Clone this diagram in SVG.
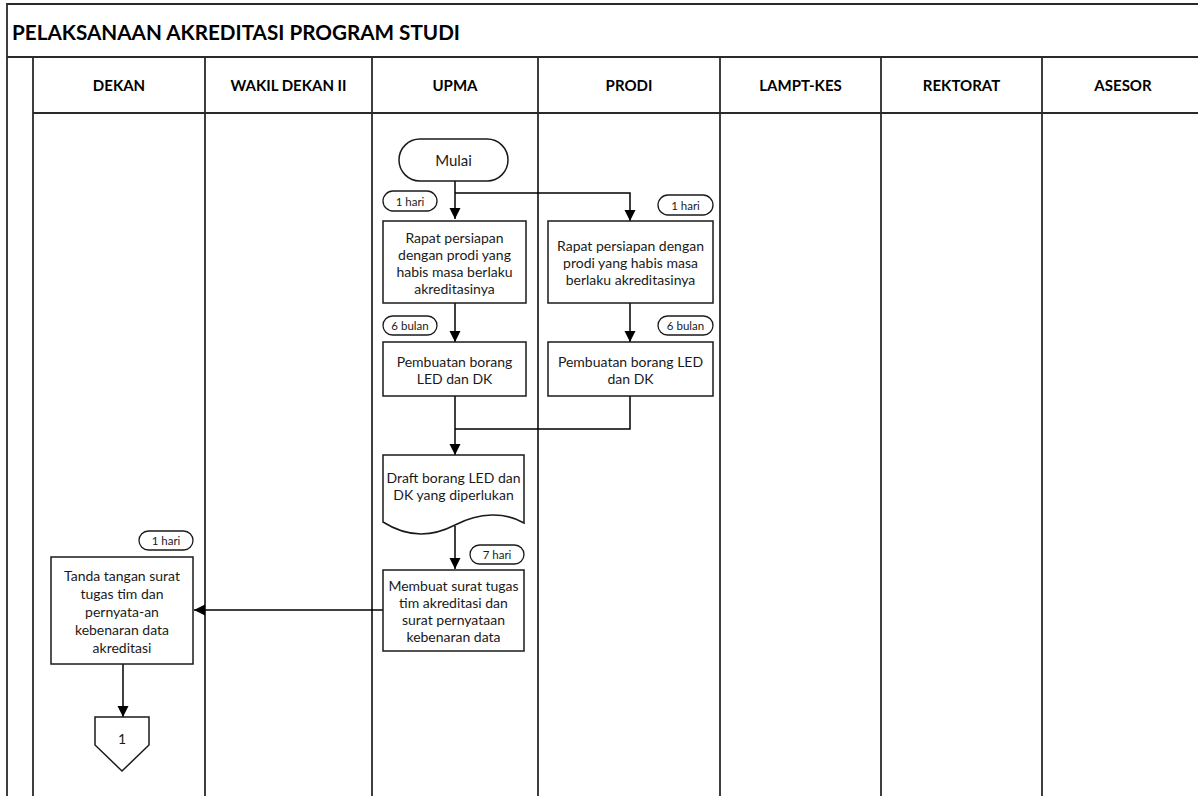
<svg xmlns="http://www.w3.org/2000/svg" width="1198" height="796" viewBox="0 0 1198 796">
<defs>
<marker id="arr" markerUnits="userSpaceOnUse" markerWidth="12" markerHeight="12" refX="11" refY="6" orient="auto">
<path d="M0,0.5 L11,6 L0,11.5 Z" fill="#000"/>
</marker>
<style>
.frame{stroke:#2a2a2a;stroke-width:1.8;fill:none}
.box{fill:#fff;stroke:#1a1a1a;stroke-width:1.5}
.pill{fill:#fff;stroke:#1a1a1a;stroke-width:1.3}
.conn{fill:none;stroke:#000;stroke-width:1.5}
.t{font-family:Lato,"Liberation Sans",sans-serif;font-size:14px;fill:#1a1a1a;text-anchor:middle;dominant-baseline:central}
.s{font-family:Lato,"Liberation Sans",sans-serif;font-size:11.5px;fill:#1a1a1a;text-anchor:middle;dominant-baseline:central}
.h{font-family:Lato,"Liberation Sans",sans-serif;font-size:15px;font-weight:bold;fill:#000;text-anchor:middle;dominant-baseline:central}
.title{font-family:Lato,"Liberation Sans",sans-serif;font-size:21px;font-weight:bold;fill:#000;dominant-baseline:central}
</style>
</defs>
<rect width="1198" height="796" fill="#fff"/>
<g id="frame">
<path class="frame" d="M7,796 V4 H1198 M7,57 H1198 M33,113 H1198"/>
<path class="frame" d="M33,57 V796 M205,57 V796 M372,57 V796 M538,57 V796 M720,57 V796 M881,57 V796 M1042,57 V796"/>
<text class="title" x="12" y="31" textLength="448" lengthAdjust="spacingAndGlyphs">PELAKSANAAN AKREDITASI PROGRAM STUDI</text>
<text class="h" x="119" y="85">DEKAN</text>
<text class="h" x="288.5" y="85">WAKIL DEKAN II</text>
<text class="h" x="455" y="85">UPMA</text>
<text class="h" x="629" y="85">PRODI</text>
<text class="h" x="800.5" y="85">LAMPT-KES</text>
<text class="h" x="961.5" y="85">REKTORAT</text>
<text class="h" x="1123" y="85">ASESOR</text>
</g>
<g id="connectors">
<path class="conn" d="M455,181 V219" marker-end="url(#arr)"/>
<path class="conn" d="M455,193 H630 V221" marker-end="url(#arr)"/>
<path class="conn" d="M455,303 V342" marker-end="url(#arr)"/>
<path class="conn" d="M630,303 V342" marker-end="url(#arr)"/>
<path class="conn" d="M455,396 V455" marker-end="url(#arr)"/>
<path class="conn" d="M630,396 V429 H455"/>
<path class="conn" d="M455,526 V569" marker-end="url(#arr)"/>
<path class="conn" d="M383,610 H194" marker-end="url(#arr)"/>
<path class="conn" d="M123,664 V717" marker-end="url(#arr)"/>
</g>
<g id="mulai">
<rect class="box" x="399" y="139" width="109" height="42" rx="21"/>
<text class="t" x="453.5" y="160" style="font-size:15px">Mulai</text>
</g>
<g id="d-upma-1">
<rect class="pill" x="383" y="191" width="54" height="20" rx="10"/>
<text class="s" x="410" y="201">1 hari</text>
</g>
<g id="rapat-upma">
<rect class="box" x="383" y="221" width="143" height="82"/>
<text class="t" x="454.5" y="237">Rapat persiapan</text>
<text class="t" x="454.5" y="254">dengan prodi yang</text>
<text class="t" x="454.5" y="271">habis masa berlaku</text>
<text class="t" x="454.5" y="288">akreditasinya</text>
</g>
<g id="d-prodi-1">
<rect class="pill" x="658" y="195" width="55" height="20" rx="10"/>
<text class="s" x="685.5" y="205">1 hari</text>
</g>
<g id="rapat-prodi">
<rect class="box" x="548" y="221" width="165" height="82"/>
<text class="t" x="630.5" y="245">Rapat persiapan dengan</text>
<text class="t" x="630.5" y="262">prodi yang habis masa</text>
<text class="t" x="630.5" y="279">berlaku akreditasinya</text>
</g>
<g id="d-upma-6">
<rect class="pill" x="383" y="316" width="54" height="19" rx="9.5"/>
<text class="s" x="410" y="325.5">6 bulan</text>
</g>
<g id="borang-upma">
<rect class="box" x="383" y="342" width="143" height="54"/>
<text class="t" x="454.5" y="361">Pembuatan borang</text>
<text class="t" x="454.5" y="378">LED dan DK</text>
</g>
<g id="d-prodi-6">
<rect class="pill" x="658" y="316" width="55" height="19" rx="9.5"/>
<text class="s" x="685.5" y="325.5">6 bulan</text>
</g>
<g id="borang-prodi">
<rect class="box" x="548" y="342" width="165" height="54"/>
<text class="t" x="630.5" y="361">Pembuatan borang LED</text>
<text class="t" x="630.5" y="378">dan DK</text>
</g>
<g id="draft">
<path class="box" d="M383,455 H524 V523 C505,512 480,512 455,525 C430,538 405,536 383,522 Z"/>
<text class="t" x="453.5" y="477">Draft borang LED dan</text>
<text class="t" x="453.5" y="494">DK yang diperlukan</text>
</g>
<g id="d-upma-7">
<rect class="pill" x="470" y="545" width="54" height="19" rx="9.5"/>
<text class="s" x="497" y="554.5">7 hari</text>
</g>
<g id="membuat">
<rect class="box" x="383" y="570" width="141" height="81"/>
<text class="t" x="453.5" y="585">Membuat surat tugas</text>
<text class="t" x="453.5" y="602">tim akreditasi dan</text>
<text class="t" x="453.5" y="619">surat pernyataan</text>
<text class="t" x="453.5" y="636">kebenaran data</text>
</g>
<g id="d-dekan-1">
<rect class="pill" x="139" y="531" width="54" height="19" rx="9.5"/>
<text class="s" x="166" y="540.5">1 hari</text>
</g>
<g id="tanda">
<rect class="box" x="51" y="557" width="142" height="107"/>
<text class="t" x="122" y="575">Tanda tangan surat</text>
<text class="t" x="122" y="593">tugas tim dan</text>
<text class="t" x="122" y="611">pernyata-an</text>
<text class="t" x="122" y="629">kebenaran data</text>
<text class="t" x="122" y="647">akreditasi</text>
</g>
<g id="offpage">
<path class="box" d="M95,717 H149 V745 L122,771 L95,745 Z"/>
<text class="t" x="122" y="738">1</text>
</g>
</svg>
